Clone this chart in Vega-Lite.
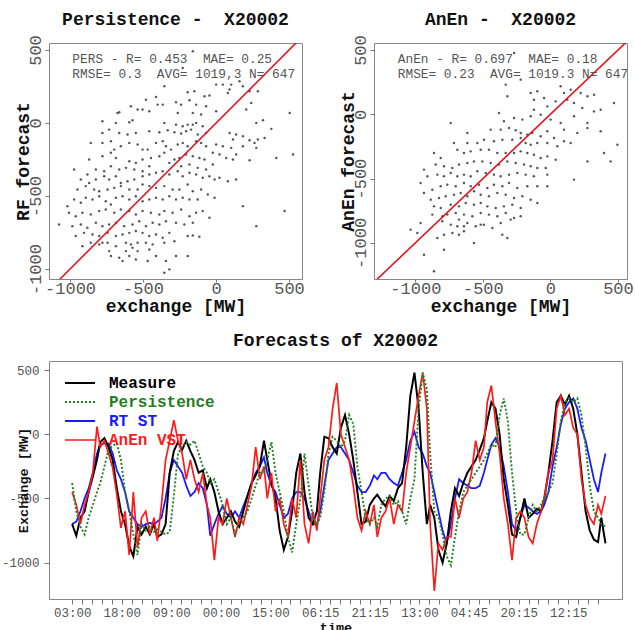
{
"$schema": "https://vega.github.io/schema/vega-lite/v6.json",
"padding": {"left": 0, "top": 10, "right": 5, "bottom": 0},
"spacing": 15,
"resolve": {"scale": {"color": "independent", "strokeDash": "independent", "strokeWidth": "independent"}, "legend": {"color": "independent", "strokeDash": "independent", "strokeWidth": "independent"}},
"config": {
  "view": {"stroke": "#888", "strokeWidth": 1},
  "font": "Liberation Mono",
  "axis": {"grid": false, "domain": false, "labelFont": "Liberation Mono", "titleFont": "Liberation Mono", "labelColor": "#555", "tickColor": "#777", "titleColor": "#111", "titleFontWeight": "bold", "labelOverlap": false, "labelFlush": false},
  "title": {"font": "Liberation Mono", "fontWeight": "bold", "fontSize": 18, "color": "#111", "anchor": "middle", "frame": "group"}
},
"vconcat": [
{
"spacing": 33,
"hconcat": [
{
  "width": 253, "height": 236,
  "title": {"text": "Persistence -\u00a0 X20002", "offset": 6},
  "encoding": {
    "x": {"field": "x", "type": "quantitative", "scale": {"domain": [-1144, 589], "nice": false, "zero": false},
      "axis": {"title": "exchange [MW]", "values": [-1000, -500, 0, 500], "labelExpr": "datum.value + ''", "labelFontSize": 17, "titleFontSize": 18, "tickSize": 3, "labelPadding": -2, "minExtent": 18, "maxExtent": 18, "titlePadding": 0}},
    "y": {"field": "y", "type": "quantitative", "scale": {"domain": [-1068, 548], "nice": false, "zero": false},
      "axis": {"title": ["\u00a0", "RF forecast"], "titleLineHeight": 13, "values": [-1000, -500, 0, 500], "labelExpr": "datum.value + ''", "labelAngle": -90, "labelAlign": "center", "labelBaseline": "bottom", "labelFontSize": 17, "titleFontSize": 18, "tickSize": 4, "labelPadding": 1, "minExtent": 14, "maxExtent": 14, "titlePadding": 3}}
  },
  "layer": [
    {"data": {"values": [
{"x":-159,"y":491},{"x":-228,"y":377},{"x":1,"y":263},{"x":47,"y":263},{"x":104,"y":263},{"x":161,"y":286},{"x":93,"y":229},{"x":184,"y":252},{"x":-354,"y":252},{"x":-194,"y":211},{"x":-148,"y":217},{"x":-79,"y":183},{"x":-45,"y":188},{"x":81,"y":206},{"x":230,"y":217},{"x":287,"y":217},{"x":-411,"y":179},{"x":-480,"y":160},{"x":-274,"y":142},{"x":-239,"y":126},{"x":-182,"y":156},{"x":-136,"y":126},{"x":-68,"y":115},{"x":241,"y":138},{"x":-583,"y":115},{"x":-537,"y":92},{"x":-503,"y":92},{"x":-457,"y":81},{"x":-400,"y":126},{"x":-365,"y":126},{"x":-675,"y":69},{"x":-663,"y":74},{"x":-262,"y":69},{"x":-159,"y":69},{"x":-102,"y":58},{"x":1,"y":81},{"x":207,"y":92},{"x":505,"y":69},{"x":-778,"y":12},{"x":-686,"y":1},{"x":-594,"y":5},{"x":-572,"y":19},{"x":-354,"y":1},{"x":-274,"y":-11},{"x":-228,"y":-22},{"x":-194,"y":-11},{"x":-159,"y":-11},{"x":-136,"y":1},{"x":-91,"y":-22},{"x":276,"y":1},{"x":322,"y":19},{"x":379,"y":-40},{"x":-778,"y":-68},{"x":-732,"y":-45},{"x":-663,"y":-68},{"x":-606,"y":-79},{"x":-549,"y":-68},{"x":-457,"y":-56},{"x":-388,"y":-63},{"x":-331,"y":-49},{"x":-285,"y":-63},{"x":-239,"y":-72},{"x":-205,"y":-56},{"x":-171,"y":-45},{"x":-125,"y":-79},{"x":-68,"y":-68},{"x":93,"y":-68},{"x":138,"y":-79},{"x":184,"y":-90},{"x":116,"y":-113},{"x":230,"y":-118},{"x":287,"y":-113},{"x":333,"y":-102},{"x":264,"y":-136},{"x":-858,"y":-136},{"x":-778,"y":-136},{"x":-720,"y":-125},{"x":-697,"y":-182},{"x":-652,"y":-159},{"x":-594,"y":-136},{"x":-537,"y":-147},{"x":-503,"y":-182},{"x":-468,"y":-182},{"x":-411,"y":-136},{"x":-365,"y":-125},{"x":-343,"y":-159},{"x":-308,"y":-182},{"x":-262,"y":-147},{"x":-228,"y":-136},{"x":-194,"y":-159},{"x":-136,"y":-125},{"x":-102,"y":-136},{"x":-68,"y":-159},{"x":1,"y":-147},{"x":47,"y":-159},{"x":104,"y":-170},{"x":184,"y":-159},{"x":276,"y":-170},{"x":528,"y":-216},{"x":413,"y":-239},{"x":230,"y":-255},{"x":-972,"y":-318},{"x":-869,"y":-250},{"x":-778,"y":-227},{"x":-720,"y":-204},{"x":-686,"y":-239},{"x":-594,"y":-262},{"x":-549,"y":-273},{"x":-503,"y":-250},{"x":-446,"y":-239},{"x":-388,"y":-227},{"x":-354,"y":-204},{"x":-285,"y":-250},{"x":-251,"y":-239},{"x":-205,"y":-216},{"x":-159,"y":-227},{"x":-114,"y":-239},{"x":-79,"y":-250},{"x":-22,"y":-204},{"x":24,"y":-216},{"x":70,"y":-239},{"x":116,"y":-250},{"x":138,"y":-216},{"x":-22,"y":-284},{"x":-68,"y":-318},{"x":-125,"y":-307},{"x":-182,"y":-284},{"x":-239,"y":-296},{"x":-320,"y":-273},{"x":-457,"y":-296},{"x":-503,"y":-330},{"x":-560,"y":-318},{"x":-617,"y":-307},{"x":-663,"y":-318},{"x":-720,"y":-296},{"x":-766,"y":-330},{"x":-823,"y":-318},{"x":-881,"y":-353},{"x":-926,"y":-387},{"x":-869,"y":-410},{"x":-823,"y":-387},{"x":-766,"y":-364},{"x":-732,"y":-387},{"x":-686,"y":-364},{"x":-652,"y":-410},{"x":-606,"y":-398},{"x":-560,"y":-387},{"x":-503,"y":-364},{"x":-457,"y":-353},{"x":-411,"y":-341},{"x":-365,"y":-330},{"x":-320,"y":-353},{"x":-262,"y":-330},{"x":-228,"y":-364},{"x":-182,"y":-341},{"x":-136,"y":-353},{"x":-91,"y":-375},{"x":-45,"y":-364},{"x":-10,"y":-387},{"x":24,"y":-375},{"x":81,"y":-398},{"x":138,"y":-387},{"x":-949,"y":-455},{"x":-892,"y":-432},{"x":-835,"y":-455},{"x":-800,"y":-467},{"x":-743,"y":-455},{"x":-697,"y":-444},{"x":-652,"y":-432},{"x":-594,"y":-455},{"x":-537,"y":-455},{"x":-503,"y":-421},{"x":-457,"y":-432},{"x":-411,"y":-444},{"x":-354,"y":-432},{"x":-297,"y":-455},{"x":-251,"y":-455},{"x":-194,"y":-421},{"x":-159,"y":-467},{"x":-102,"y":-455},{"x":-56,"y":-489},{"x":-10,"y":-512},{"x":184,"y":-569},{"x":276,"y":-706},{"x":470,"y":-603},{"x":-1018,"y":-569},{"x":-972,"y":-524},{"x":-926,"y":-546},{"x":-892,"y":-512},{"x":-846,"y":-524},{"x":-800,"y":-501},{"x":-755,"y":-535},{"x":-720,"y":-558},{"x":-686,"y":-512},{"x":-640,"y":-501},{"x":-594,"y":-524},{"x":-549,"y":-501},{"x":-503,"y":-535},{"x":-457,"y":-524},{"x":-411,"y":-512},{"x":-365,"y":-524},{"x":-320,"y":-501},{"x":-274,"y":-524},{"x":-228,"y":-512},{"x":-182,"y":-524},{"x":-125,"y":-524},{"x":-1075,"y":-695},{"x":-1007,"y":-615},{"x":-961,"y":-638},{"x":-915,"y":-615},{"x":-858,"y":-626},{"x":-800,"y":-603},{"x":-755,"y":-592},{"x":-697,"y":-615},{"x":-652,"y":-592},{"x":-594,"y":-603},{"x":-549,"y":-626},{"x":-503,"y":-603},{"x":-446,"y":-615},{"x":-388,"y":-626},{"x":-354,"y":-603},{"x":-297,"y":-615},{"x":-239,"y":-592},{"x":-182,"y":-638},{"x":-136,"y":-615},{"x":-91,"y":-603},{"x":-45,"y":-649},{"x":-984,"y":-706},{"x":-926,"y":-695},{"x":-881,"y":-717},{"x":-823,"y":-683},{"x":-778,"y":-706},{"x":-732,"y":-695},{"x":-686,"y":-683},{"x":-629,"y":-706},{"x":-572,"y":-695},{"x":-526,"y":-672},{"x":-480,"y":-706},{"x":-434,"y":-683},{"x":-388,"y":-695},{"x":-343,"y":-672},{"x":-274,"y":-683},{"x":-217,"y":-695},{"x":-159,"y":-683},{"x":-961,"y":-774},{"x":-904,"y":-752},{"x":-846,"y":-763},{"x":-800,"y":-774},{"x":-743,"y":-752},{"x":-686,"y":-774},{"x":-640,"y":-763},{"x":-594,"y":-752},{"x":-549,"y":-740},{"x":-503,"y":-752},{"x":-457,"y":-774},{"x":-411,"y":-763},{"x":-365,"y":-786},{"x":-320,"y":-752},{"x":-194,"y":-774},{"x":-159,"y":-770},{"x":-114,"y":-779},{"x":-915,"y":-843},{"x":-858,"y":-820},{"x":-800,"y":-831},{"x":-743,"y":-820},{"x":-686,"y":-843},{"x":-617,"y":-820},{"x":-583,"y":-831},{"x":-537,"y":-820},{"x":-480,"y":-820},{"x":-434,"y":-831},{"x":-354,"y":-820},{"x":-285,"y":-809},{"x":-720,"y":-911},{"x":-663,"y":-923},{"x":-594,"y":-911},{"x":-549,"y":-934},{"x":-468,"y":-945},{"x":-411,"y":-911},{"x":-343,"y":-945},{"x":-274,"y":-911},{"x":-194,"y":-911},{"x":-640,"y":-945},{"x":-320,"y":-1002},{"x":-354,"y":-1025},{"x":-778,"y":-820},{"x":-732,"y":-877},{"x":-617,"y":-877},{"x":-572,"y":-854},{"x":-537,"y":-877},{"x":-457,"y":-866}
    ]},
     "mark": {"type": "point", "filled": true, "size": 6, "color": "#444", "opacity": 0.9}},
    {"data": {"values": [{"x": -1500, "y": -1500}, {"x": 800, "y": 800}]},
     "mark": {"type": "line", "color": "#e3161d", "strokeWidth": 1.6, "clip": true}},
    {"data": {"values": [{"x": -984, "y": 438, "t": "PERS - R= 0.453\u00a0 MAE= 0.25"}, {"x": -984, "y": 336, "t": "RMSE= 0.3\u00a0 AVG= 1019,3 N= 647"}]},
     "mark": {"type": "text", "align": "left", "baseline": "middle", "font": "Liberation Mono", "fontSize": 12.8, "color": "#555"},
     "encoding": {"text": {"field": "t"}}}
  ]
},
{
  "width": 253, "height": 236,
  "title": {"text": "AnEn -\u00a0 X20002", "offset": 6},
  "encoding": {
    "x": {"field": "x", "type": "quantitative", "scale": {"domain": [-1306, 567], "nice": false, "zero": false},
      "axis": {"title": "exchange [MW]", "values": [-1000, -500, 0, 500], "labelExpr": "datum.value + ''", "labelFontSize": 17, "titleFontSize": 18, "tickSize": 3, "labelPadding": -2, "minExtent": 18, "maxExtent": 18, "titlePadding": 0}},
    "y": {"field": "y", "type": "quantitative", "scale": {"domain": [-1281, 555], "nice": false, "zero": false},
      "axis": {"title": "AnEn forecast", "values": [-1000, -500, 0, 500], "labelExpr": "datum.value + ''", "labelAngle": -90, "labelAlign": "center", "labelBaseline": "bottom", "labelFontSize": 17, "titleFontSize": 18, "tickSize": 4, "labelPadding": 1, "minExtent": 14, "maxExtent": 14, "titlePadding": 3}}
  },
  "layer": [
    {"data": {"values": [
{"x":-269,"y":477},{"x":-220,"y":270},{"x":-331,"y":231},{"x":-319,"y":140},{"x":-146,"y":166},{"x":-97,"y":179},{"x":-122,"y":114},{"x":-47,"y":127},{"x":76,"y":218},{"x":101,"y":166},{"x":150,"y":192},{"x":224,"y":166},{"x":274,"y":140},{"x":323,"y":153},{"x":-23,"y":62},{"x":39,"y":101},{"x":125,"y":114},{"x":175,"y":88},{"x":236,"y":49},{"x":323,"y":23},{"x":372,"y":36},{"x":471,"y":88},{"x":-738,"y":-67},{"x":-381,"y":10},{"x":-344,"y":-54},{"x":-269,"y":-28},{"x":-208,"y":-41},{"x":-146,"y":-15},{"x":-122,"y":36},{"x":-72,"y":-3},{"x":2,"y":-41},{"x":76,"y":-67},{"x":175,"y":-15},{"x":274,"y":-67},{"x":101,"y":-119},{"x":199,"y":-145},{"x":274,"y":-106},{"x":372,"y":-132},{"x":-615,"y":-145},{"x":-442,"y":-119},{"x":-368,"y":-119},{"x":-306,"y":-106},{"x":-257,"y":-124},{"x":-220,"y":-145},{"x":-171,"y":-158},{"x":-134,"y":-145},{"x":-72,"y":-171},{"x":-23,"y":-132},{"x":27,"y":-184},{"x":101,"y":-210},{"x":150,"y":-223},{"x":-714,"y":-223},{"x":-615,"y":-223},{"x":-541,"y":-223},{"x":-492,"y":-197},{"x":-418,"y":-210},{"x":-356,"y":-197},{"x":-282,"y":-197},{"x":-220,"y":-184},{"x":-183,"y":-223},{"x":-146,"y":-236},{"x":-97,"y":-223},{"x":-23,"y":-223},{"x":51,"y":-249},{"x":-862,"y":-301},{"x":-812,"y":-340},{"x":-689,"y":-275},{"x":-640,"y":-301},{"x":-590,"y":-288},{"x":-516,"y":-275},{"x":-455,"y":-275},{"x":-393,"y":-301},{"x":-331,"y":-301},{"x":-269,"y":-301},{"x":-220,"y":-288},{"x":-171,"y":-301},{"x":-122,"y":-314},{"x":-72,"y":-340},{"x":-23,"y":-327},{"x":39,"y":-353},{"x":397,"y":-301},{"x":496,"y":-236},{"x":446,"y":-366},{"x":274,"y":-366},{"x":-936,"y":-430},{"x":-849,"y":-391},{"x":-788,"y":-404},{"x":-726,"y":-417},{"x":-677,"y":-391},{"x":-615,"y":-378},{"x":-566,"y":-366},{"x":-504,"y":-366},{"x":-442,"y":-378},{"x":-381,"y":-391},{"x":-319,"y":-366},{"x":-257,"y":-378},{"x":-195,"y":-391},{"x":-146,"y":-404},{"x":-97,"y":-417},{"x":-35,"y":-417},{"x":-911,"y":-482},{"x":-837,"y":-469},{"x":-788,"y":-482},{"x":-738,"y":-456},{"x":-689,"y":-482},{"x":-640,"y":-469},{"x":-590,"y":-482},{"x":-541,"y":-443},{"x":-479,"y":-456},{"x":-418,"y":-469},{"x":-368,"y":-482},{"x":-306,"y":-469},{"x":-245,"y":-456},{"x":-183,"y":-469},{"x":-122,"y":-482},{"x":-23,"y":-469},{"x":175,"y":-508},{"x":-961,"y":-534},{"x":-936,"y":-612},{"x":-874,"y":-586},{"x":-812,"y":-560},{"x":-763,"y":-547},{"x":-701,"y":-560},{"x":-640,"y":-534},{"x":-590,"y":-560},{"x":-529,"y":-547},{"x":-467,"y":-573},{"x":-418,"y":-547},{"x":-356,"y":-560},{"x":-306,"y":-534},{"x":-245,"y":-573},{"x":-171,"y":-560},{"x":-97,"y":-560},{"x":-23,"y":-560},{"x":-886,"y":-664},{"x":-825,"y":-651},{"x":-775,"y":-638},{"x":-714,"y":-625},{"x":-664,"y":-612},{"x":-615,"y":-638},{"x":-566,"y":-599},{"x":-516,"y":-625},{"x":-455,"y":-638},{"x":-393,"y":-612},{"x":-331,"y":-625},{"x":-269,"y":-651},{"x":-208,"y":-638},{"x":-146,"y":-664},{"x":-97,"y":-690},{"x":-862,"y":-716},{"x":-812,"y":-729},{"x":-738,"y":-703},{"x":-677,"y":-716},{"x":-627,"y":-690},{"x":-566,"y":-703},{"x":-516,"y":-690},{"x":-467,"y":-716},{"x":-405,"y":-729},{"x":-344,"y":-716},{"x":-282,"y":-703},{"x":-220,"y":-729},{"x":-874,"y":-780},{"x":-800,"y":-793},{"x":-763,"y":-780},{"x":-701,"y":-767},{"x":-640,"y":-780},{"x":-578,"y":-793},{"x":-516,"y":-767},{"x":-455,"y":-780},{"x":-393,"y":-793},{"x":-331,"y":-767},{"x":-269,"y":-806},{"x":-1035,"y":-897},{"x":-961,"y":-845},{"x":-800,"y":-832},{"x":-738,"y":-858},{"x":-677,"y":-819},{"x":-615,"y":-845},{"x":-553,"y":-871},{"x":-492,"y":-858},{"x":-430,"y":-884},{"x":-368,"y":-845},{"x":-788,"y":-936},{"x":-726,"y":-923},{"x":-677,"y":-936},{"x":-640,"y":-910},{"x":-566,"y":-1001},{"x":-356,"y":-936},{"x":-319,"y":-962},{"x":-936,"y":-1092},{"x":-788,"y":-1053},{"x":-985,"y":-923},{"x":-837,"y":-962},{"x":-862,"y":-1221},{"x":-294,"y":-819},{"x":-220,"y":-793},{"x":-640,"y":-871},{"x":-689,"y":-871},{"x":-516,"y":-858}
    ]},
     "mark": {"type": "point", "filled": true, "size": 6, "color": "#444", "opacity": 0.9}},
    {"data": {"values": [{"x": -1500, "y": -1500}, {"x": 800, "y": 800}]},
     "mark": {"type": "line", "color": "#e3161d", "strokeWidth": 1.6, "clip": true}},
    {"data": {"values": [{"x": -1130, "y": 431, "t": "AnEn - R= 0.697\u00a0 MAE= 0.18"}, {"x": -1130, "y": 314, "t": "RMSE= 0.23\u00a0 AVG= 1019.3 N= 647"}]},
     "mark": {"type": "text", "align": "left", "baseline": "middle", "font": "Liberation Mono", "fontSize": 12.8, "color": "#555"},
     "encoding": {"text": {"field": "t"}}}
  ]
}
]
},
{
  "width": 573, "height": 238,
  "title": {"text": "Forecasts of X20002", "offset": 11},
  "data": {"values": [
{"t":0,"Measure":-700,"Persistence":-380,"RT ST":-700,"AnEn VST":-450},
{"t":5,"Measure":-790,"Persistence":-600,"RT ST":-680,"AnEn VST":-550},
{"t":10,"Measure":-650,"Persistence":-720,"RT ST":-600,"AnEn VST":-700},
{"t":15,"Measure":-600,"Persistence":-780,"RT ST":-500,"AnEn VST":-550},
{"t":20,"Measure":-450,"Persistence":-650,"RT ST":-420,"AnEn VST":-450},
{"t":25,"Measure":-330,"Persistence":-550,"RT ST":-300,"AnEn VST":-300},
{"t":30,"Measure":-200,"Persistence":-450,"RT ST":-150,"AnEn VST":60},
{"t":34,"Measure":-60,"Persistence":-380,"RT ST":-80,"AnEn VST":-100},
{"t":39,"Measure":-30,"Persistence":-250,"RT ST":-70,"AnEn VST":-50},
{"t":44,"Measure":-100,"Persistence":-120,"RT ST":-70,"AnEn VST":-150},
{"t":49,"Measure":-200,"Persistence":-90,"RT ST":-150,"AnEn VST":-260},
{"t":54,"Measure":-420,"Persistence":-70,"RT ST":-280,"AnEn VST":-470},
{"t":59,"Measure":-600,"Persistence":-200,"RT ST":-350,"AnEn VST":-730},
{"t":64,"Measure":-700,"Persistence":-450,"RT ST":-450,"AnEn VST":-600},
{"t":69,"Measure":-870,"Persistence":-600,"RT ST":-600,"AnEn VST":-940},
{"t":74,"Measure":-950,"Persistence":-780,"RT ST":-650,"AnEn VST":-450},
{"t":79,"Measure":-720,"Persistence":-940,"RT ST":-700,"AnEn VST":-880},
{"t":84,"Measure":-780,"Persistence":-700,"RT ST":-720,"AnEn VST":-650},
{"t":89,"Measure":-720,"Persistence":-750,"RT ST":-700,"AnEn VST":-600},
{"t":94,"Measure":-780,"Persistence":-720,"RT ST":-690,"AnEn VST":-780},
{"t":99,"Measure":-700,"Persistence":-760,"RT ST":-700,"AnEn VST":-650},
{"t":103,"Measure":-800,"Persistence":-740,"RT ST":-680,"AnEn VST":-830},
{"t":108,"Measure":-780,"Persistence":-760,"RT ST":-650,"AnEn VST":-550},
{"t":113,"Measure":-700,"Persistence":-780,"RT ST":-500,"AnEn VST":-200},
{"t":118,"Measure":-300,"Persistence":-760,"RT ST":-300,"AnEn VST":-50},
{"t":123,"Measure":-130,"Persistence":-480,"RT ST":-200,"AnEn VST":110},
{"t":128,"Measure":-60,"Persistence":-150,"RT ST":-250,"AnEn VST":-50},
{"t":133,"Measure":-120,"Persistence":-100,"RT ST":-300,"AnEn VST":-150},
{"t":138,"Measure":-50,"Persistence":-60,"RT ST":-400,"AnEn VST":-350},
{"t":143,"Measure":-130,"Persistence":-80,"RT ST":-480,"AnEn VST":-200},
{"t":148,"Measure":-200,"Persistence":-50,"RT ST":-450,"AnEn VST":-350},
{"t":153,"Measure":-300,"Persistence":-150,"RT ST":-380,"AnEn VST":-450},
{"t":158,"Measure":-280,"Persistence":-250,"RT ST":-420,"AnEn VST":-300},
{"t":163,"Measure":-420,"Persistence":-300,"RT ST":-550,"AnEn VST":-550},
{"t":167,"Measure":-350,"Persistence":-380,"RT ST":-790,"AnEn VST":-650},
{"t":172,"Measure":-450,"Persistence":-350,"RT ST":-700,"AnEn VST":-980},
{"t":177,"Measure":-600,"Persistence":-450,"RT ST":-620,"AnEn VST":-650},
{"t":182,"Measure":-700,"Persistence":-550,"RT ST":-560,"AnEn VST":-700},
{"t":187,"Measure":-650,"Persistence":-700,"RT ST":-620,"AnEn VST":-500},
{"t":192,"Measure":-600,"Persistence":-650,"RT ST":-650,"AnEn VST":-650},
{"t":197,"Measure":-680,"Persistence":-780,"RT ST":-600,"AnEn VST":-800},
{"t":202,"Measure":-720,"Persistence":-700,"RT ST":-650,"AnEn VST":-650},
{"t":207,"Measure":-600,"Persistence":-650,"RT ST":-560,"AnEn VST":-700},
{"t":212,"Measure":-480,"Persistence":-600,"RT ST":-480,"AnEn VST":-550},
{"t":217,"Measure":-380,"Persistence":-500,"RT ST":-380,"AnEn VST":-400},
{"t":222,"Measure":-320,"Persistence":-400,"RT ST":-300,"AnEn VST":-100},
{"t":227,"Measure":-250,"Persistence":-300,"RT ST":-250,"AnEn VST":-350},
{"t":232,"Measure":-50,"Persistence":-300,"RT ST":-180,"AnEn VST":-250},
{"t":236,"Measure":-200,"Persistence":-200,"RT ST":-300,"AnEn VST":-500},
{"t":241,"Measure":-380,"Persistence":-60,"RT ST":-400,"AnEn VST":-300},
{"t":246,"Measure":-500,"Persistence":-300,"RT ST":-450,"AnEn VST":-600},
{"t":251,"Measure":-750,"Persistence":-450,"RT ST":-550,"AnEn VST":-500},
{"t":256,"Measure":-900,"Persistence":-600,"RT ST":-650,"AnEn VST":-700},
{"t":261,"Measure":-800,"Persistence":-800,"RT ST":-620,"AnEn VST":-800},
{"t":266,"Measure":-600,"Persistence":-920,"RT ST":-500,"AnEn VST":-500},
{"t":271,"Measure":-300,"Persistence":-700,"RT ST":-450,"AnEn VST":-650},
{"t":276,"Measure":-150,"Persistence":-500,"RT ST":-450,"AnEn VST":-200},
{"t":281,"Measure":-450,"Persistence":-150,"RT ST":-500,"AnEn VST":-700},
{"t":286,"Measure":-650,"Persistence":-400,"RT ST":-600,"AnEn VST":-850},
{"t":291,"Measure":-700,"Persistence":-650,"RT ST":-700,"AnEn VST":-600},
{"t":296,"Measure":-600,"Persistence":-700,"RT ST":-700,"AnEn VST":-750},
{"t":300,"Measure":-300,"Persistence":-650,"RT ST":-600,"AnEn VST":-500},
{"t":305,"Measure":-20,"Persistence":-450,"RT ST":-400,"AnEn VST":-200},
{"t":310,"Measure":-30,"Persistence":-150,"RT ST":-200,"AnEn VST":-100},
{"t":315,"Measure":-100,"Persistence":-20,"RT ST":-150,"AnEn VST":200},
{"t":320,"Measure":-150,"Persistence":-50,"RT ST":-100,"AnEn VST":400},
{"t":325,"Measure":50,"Persistence":-100,"RT ST":-100,"AnEn VST":0},
{"t":330,"Measure":150,"Persistence":-50,"RT ST":-150,"AnEn VST":-100},
{"t":335,"Measure":0,"Persistence":150,"RT ST":-200,"AnEn VST":-200},
{"t":340,"Measure":-200,"Persistence":80,"RT ST":-300,"AnEn VST":-400},
{"t":345,"Measure":-450,"Persistence":-250,"RT ST":-400,"AnEn VST":-650},
{"t":350,"Measure":-700,"Persistence":-450,"RT ST":-450,"AnEn VST":-750},
{"t":355,"Measure":-680,"Persistence":-650,"RT ST":-450,"AnEn VST":-600},
{"t":360,"Measure":-550,"Persistence":-700,"RT ST":-400,"AnEn VST":-700},
{"t":365,"Measure":-500,"Persistence":-650,"RT ST":-320,"AnEn VST":-550},
{"t":369,"Measure":-470,"Persistence":-720,"RT ST":-350,"AnEn VST":-800},
{"t":374,"Measure":-520,"Persistence":-550,"RT ST":-300,"AnEn VST":-650},
{"t":379,"Measure":-560,"Persistence":-500,"RT ST":-300,"AnEn VST":-600},
{"t":384,"Measure":-480,"Persistence":-480,"RT ST":-350,"AnEn VST":-500},
{"t":389,"Measure":-520,"Persistence":-550,"RT ST":-380,"AnEn VST":-700},
{"t":394,"Measure":-420,"Persistence":-520,"RT ST":-400,"AnEn VST":-550},
{"t":399,"Measure":-380,"Persistence":-600,"RT ST":-300,"AnEn VST":-600},
{"t":404,"Measure":-100,"Persistence":-700,"RT ST":-200,"AnEn VST":-300},
{"t":409,"Measure":300,"Persistence":-500,"RT ST":-50,"AnEn VST":-100},
{"t":414,"Measure":480,"Persistence":-350,"RT ST":20,"AnEn VST":100},
{"t":419,"Measure":200,"Persistence":200,"RT ST":-100,"AnEn VST":300},
{"t":424,"Measure":-300,"Persistence":480,"RT ST":-150,"AnEn VST":480},
{"t":429,"Measure":-700,"Persistence":350,"RT ST":-250,"AnEn VST":200},
{"t":433,"Measure":-550,"Persistence":-150,"RT ST":-300,"AnEn VST":-700},
{"t":438,"Measure":-650,"Persistence":-600,"RT ST":-450,"AnEn VST":-1220},
{"t":443,"Measure":-900,"Persistence":-650,"RT ST":-600,"AnEn VST":-850},
{"t":448,"Measure":-1000,"Persistence":-780,"RT ST":-750,"AnEn VST":-900},
{"t":453,"Measure":-850,"Persistence":-950,"RT ST":-850,"AnEn VST":-800},
{"t":458,"Measure":-600,"Persistence":-1020,"RT ST":-700,"AnEn VST":-800},
{"t":463,"Measure":-420,"Persistence":-800,"RT ST":-500,"AnEn VST":-500},
{"t":468,"Measure":-480,"Persistence":-600,"RT ST":-350,"AnEn VST":-650},
{"t":473,"Measure":-380,"Persistence":-450,"RT ST":-380,"AnEn VST":-500},
{"t":478,"Measure":-300,"Persistence":-400,"RT ST":-400,"AnEn VST":-450},
{"t":483,"Measure":-250,"Persistence":-350,"RT ST":-420,"AnEn VST":-300},
{"t":488,"Measure":-200,"Persistence":-300,"RT ST":-420,"AnEn VST":-50},
{"t":493,"Measure":-120,"Persistence":-250,"RT ST":-400,"AnEn VST":-200},
{"t":498,"Measure":-30,"Persistence":-200,"RT ST":-300,"AnEn VST":-100},
{"t":502,"Measure":100,"Persistence":-150,"RT ST":-200,"AnEn VST":250},
{"t":507,"Measure":250,"Persistence":-80,"RT ST":-80,"AnEn VST":380},
{"t":512,"Measure":200,"Persistence":-100,"RT ST":-30,"AnEn VST":100},
{"t":517,"Measure":0,"Persistence":150,"RT ST":-100,"AnEn VST":-150},
{"t":522,"Measure":-350,"Persistence":280,"RT ST":-250,"AnEn VST":-500},
{"t":527,"Measure":-550,"Persistence":100,"RT ST":-450,"AnEn VST":-700},
{"t":532,"Measure":-780,"Persistence":-300,"RT ST":-700,"AnEn VST":-980},
{"t":537,"Measure":-800,"Persistence":-600,"RT ST":-750,"AnEn VST":-650},
{"t":542,"Measure":-650,"Persistence":-780,"RT ST":-650,"AnEn VST":-600},
{"t":547,"Measure":-500,"Persistence":-780,"RT ST":-550,"AnEn VST":-650},
{"t":552,"Measure":-650,"Persistence":-650,"RT ST":-570,"AnEn VST":-800},
{"t":557,"Measure":-620,"Persistence":-550,"RT ST":-600,"AnEn VST":-850},
{"t":562,"Measure":-580,"Persistence":-600,"RT ST":-620,"AnEn VST":-700},
{"t":567,"Measure":-600,"Persistence":-550,"RT ST":-600,"AnEn VST":-600},
{"t":571,"Measure":-500,"Persistence":-500,"RT ST":-550,"AnEn VST":-500},
{"t":576,"Measure":-300,"Persistence":-450,"RT ST":-450,"AnEn VST":-300},
{"t":581,"Measure":-50,"Persistence":-380,"RT ST":-250,"AnEn VST":-200},
{"t":586,"Measure":250,"Persistence":-150,"RT ST":-100,"AnEn VST":200},
{"t":591,"Measure":300,"Persistence":100,"RT ST":80,"AnEn VST":300},
{"t":596,"Measure":230,"Persistence":250,"RT ST":200,"AnEn VST":150},
{"t":601,"Measure":300,"Persistence":280,"RT ST":250,"AnEn VST":200},
{"t":606,"Measure":200,"Persistence":250,"RT ST":280,"AnEn VST":50},
{"t":611,"Measure":0,"Persistence":280,"RT ST":200,"AnEn VST":0},
{"t":616,"Measure":-300,"Persistence":150,"RT ST":50,"AnEn VST":-350},
{"t":621,"Measure":-600,"Persistence":-100,"RT ST":-50,"AnEn VST":-550},
{"t":626,"Measure":-750,"Persistence":-400,"RT ST":-200,"AnEn VST":-650},
{"t":631,"Measure":-820,"Persistence":-600,"RT ST":-350,"AnEn VST":-700},
{"t":636,"Measure":-840,"Persistence":-650,"RT ST":-450,"AnEn VST":-550},
{"t":640,"Measure":-650,"Persistence":-700,"RT ST":-300,"AnEn VST":-620},
{"t":645,"Measure":-850,"Persistence":-720,"RT ST":-150,"AnEn VST":-480}
  ]},
  "transform": [{"fold": ["RT ST", "Measure", "AnEn VST", "Persistence"], "as": ["series", "val"]}],
  "mark": {"type": "line", "clip": true},
  "encoding": {
    "x": {"field": "t", "type": "quantitative", "scale": {"domain": [-28, 665], "nice": false, "zero": false},
      "axis": {"title": "time", "values": [0,12,24,36,48,60,72,84,96,108,120,132,144,156,168,180,192,204,216,228,240,252,264,276,288,300,312,324,336,348,360,372,384,396,408,420,432,444,456,468,480,492,504,516,528,540,552,564,576,588,600,612,624,636],
        "labelExpr": "datum.value % 60 == 0 ? ['03:00','18:00','09:00','00:00','15:00','06:15','21:15','13:00','04:45','20:15','12:15'][datum.value / 60] : ''",
        "labelFontSize": 12.5, "titleFontSize": 13.5, "tickSize": 5, "labelPadding": 2, "minExtent": 20, "maxExtent": 20, "titlePadding": 1}},
    "y": {"field": "val", "type": "quantitative", "scale": {"domain": [-1283, 571], "nice": false, "zero": false},
      "axis": {"title": "Exchange [MW]", "values": [-1000, -500, 0, 500], "labelExpr": "datum.value + ''", "labelFontSize": 12.5, "titleFontSize": 13.5, "tickSize": 5, "labelPadding": 5, "minExtent": 19, "maxExtent": 19, "titlePadding": 0}},
    "color": {"field": "series", "type": "nominal",
      "scale": {"domain": ["Measure", "Persistence", "RT ST", "AnEn VST"], "range": ["#000000", "#1f7f1f", "#1a1aff", "#ff1a1a"]},
      "legend": {"orient": "none", "legendX": 20, "legendY": 11, "title": null, "symbolType": "M-1.5,0L1.5,0", "symbolSize": 400, "labelFont": "Liberation Mono", "labelFontWeight": "bold", "labelFontSize": 16, "labelOffset": 18, "rowPadding": -1, "padding": 0,
        "labelColor": {"expr": "datum.label == 'Measure' ? '#000000' : datum.label == 'Persistence' ? '#1f7f1f' : datum.label == 'RT ST' ? '#1a1aff' : '#ff1a1a'"}}},
    "strokeDash": {"field": "series", "type": "nominal",
      "scale": {"domain": ["Measure", "Persistence", "RT ST", "AnEn VST"], "range": [[1, 0], [2, 2], [1, 0], [1, 0]]},
      "legend": {"orient": "none", "legendX": 20, "legendY": 11, "title": null, "symbolType": "M-1.5,0L1.5,0", "symbolSize": 400, "labelFont": "Liberation Mono", "labelFontWeight": "bold", "labelFontSize": 16, "labelOffset": 18, "rowPadding": -1, "padding": 0,
        "labelColor": {"expr": "datum.label == 'Measure' ? '#000000' : datum.label == 'Persistence' ? '#1f7f1f' : datum.label == 'RT ST' ? '#1a1aff' : '#ff1a1a'"}}},
    "strokeWidth": {"field": "series", "type": "nominal",
      "scale": {"domain": ["Measure", "Persistence", "RT ST", "AnEn VST"], "range": [2, 1.7, 1.4, 1.4]},
      "legend": {"orient": "none", "legendX": 20, "legendY": 11, "title": null, "symbolType": "M-1.5,0L1.5,0", "symbolSize": 400, "labelFont": "Liberation Mono", "labelFontWeight": "bold", "labelFontSize": 16, "labelOffset": 18, "rowPadding": -1, "padding": 0,
        "labelColor": {"expr": "datum.label == 'Measure' ? '#000000' : datum.label == 'Persistence' ? '#1f7f1f' : datum.label == 'RT ST' ? '#1a1aff' : '#ff1a1a'"}}}
  }
}
]
}
